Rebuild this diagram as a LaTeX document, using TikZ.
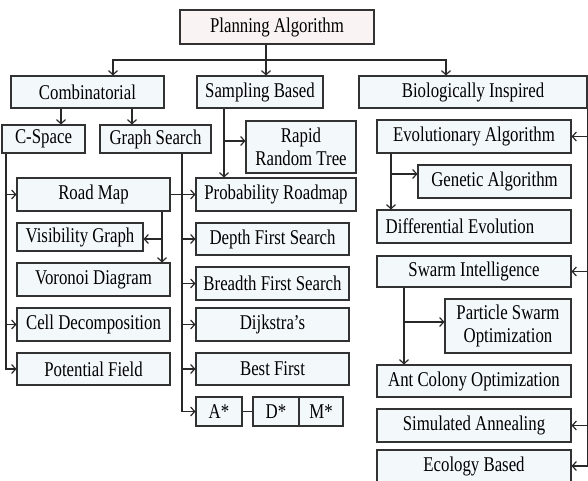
\documentclass[tikz,border=0pt]{standalone}
\usepackage{fontspec}
\setmainfont{Liberation Serif}[FakeStretch=0.8]
\usepackage{xcolor}
\usetikzlibrary{arrows.meta, positioning, calc}
\definecolor{PABoxFill}{RGB}{243, 248, 250}
\definecolor{PARootFill}{RGB}{250, 243, 243}
\definecolor{PALine}{RGB}{40, 40, 40}
\definecolor{PABorder}{RGB}{50, 50, 50}

\tikzset{
  algbox/.style={draw=PABorder, fill=PABoxFill, line width=1.1pt, inner sep=0pt,
    align=center, font=\fontsize{21}{23}\selectfont},
  link/.style={PALine, line width=1.2pt},
  arr/.style={link, -{Straight Barb[length=4pt,width=9pt]}},
}

\begin{document}
\begin{tikzpicture}[x=1pt,y=-1pt]
  \path[use as bounding box] (0,0) rectangle (588,480);

  % root and families
  \node[algbox, fill=PARootFill, minimum width=194, minimum height=34] (plan) at (277,27) {Planning Algorithm};
  \node[algbox, minimum width=153, minimum height=32] (comb) at (87.5,92) {Combinatorial};
  \node[algbox, minimum width=126, minimum height=32] (samp) at (260,92) {Sampling Based};
  \node[algbox, minimum width=228, minimum height=32] (bio) at (473,92) {Biologically Inspired};

  % combinatorial
  \node[algbox, minimum width=83, minimum height=28] (cspace) at (43.5,139) {C-Space};
  \node[algbox, minimum width=111, minimum height=28] (gsearch) at (155.5,139) {Graph Search};
  \node[algbox, minimum width=153, minimum height=33] (road) at (93.5,194.5) {Road Map};
  \node[algbox, minimum width=126, minimum height=28] (vis) at (80,237) {Visibility Graph};
  \node[algbox, minimum width=153, minimum height=33] (vor) at (93.5,279.5) {Voronoi Diagram};
  \node[algbox, minimum width=153, minimum height=33] (cell) at (93.5,324.5) {Cell Decomposition};
  \node[algbox, minimum width=153, minimum height=32] (pot) at (93.5,369) {Potential Field};

  % sampling and graph search
  \node[algbox, minimum width=110, minimum height=52] (rrt) at (301,147) {Rapid\\Random Tree};
  \node[algbox, minimum width=160, minimum height=33] (prm) at (276,194.5) {Probability Roadmap};
  \node[algbox, minimum width=153, minimum height=32] (dfs) at (272.5,239) {Depth First Search};
  \node[algbox, minimum width=153, minimum height=33] (bfs) at (272.5,283.5) {Breadth First Search};
  \node[algbox, minimum width=153, minimum height=33] (dij) at (272.5,324.5) {Dijkstra’s};
  \node[algbox, minimum width=153, minimum height=32] (best) at (272.5,369) {Best First};
  \node[algbox, minimum width=46, minimum height=29] (astar) at (219,411.5) {A*};
  \node[algbox, minimum width=46, minimum height=29] (dstar) at (276,411.5) {D*};
  \node[algbox, minimum width=44, minimum height=29] (mstar) at (321,411.5) {M*};

  % biologically inspired
  \node[algbox, minimum width=194, minimum height=33] (evo) at (474,136.5) {Evolutionary Algorithm};
  \node[algbox, minimum width=153, minimum height=33] (gen) at (494.5,181.5) {Genetic Algorithm};
  \node[algbox, minimum width=194, minimum height=33] (dif) at (474,226.5) {Differential Evolution\hspace*{28pt}};
  \node[algbox, minimum width=194, minimum height=31] (swarm) at (474,271.5) {Swarm Intelligence};
  \node[algbox, minimum width=126, minimum height=54] (pso) at (508,326) {Particle Swarm\\Optimization};
  \node[algbox, minimum width=194, minimum height=32] (ant) at (474,381) {Ant Colony Optimization};
  \node[algbox, minimum width=194, minimum height=33] (sa) at (474,425.5) {Simulated Annealing};
  \node[algbox, minimum width=194, minimum height=32] (eco) at (474,466) {Ecology Based};

  % top level links
  \coordinate (tp) at (266,60);
  \coordinate (tl) at (113,60);
  \coordinate (tr) at (446,60);
  \draw[arr] (tp |- plan.south) -- (tp |- samp.north);
  \draw[arr] (tp) -- (tl) -- (tl |- comb.north);
  \draw[arr] (tp) -- (tr) -- (tr |- bio.north);

  % combinatorial links
  \coordinate (kc) at (61,0);
  \coordinate (kg) at (132,0);
  \draw[arr] (kc |- comb.south) -- (kc |- cspace.north);
  \draw[arr] (kg |- comb.south) -- (kg |- gsearch.north);
  \coordinate (ks) at (6,0);
  \draw[arr] (ks |- cspace.south) |- (pot.west);
  \foreach \n in {road,cell}
    \draw[arr] (ks |- \n.west) -- (\n.west);
  \coordinate (kr) at (162,239);
  \draw[arr] (kr |- road.south) -- (kr |- vor.north);
  \draw[arr] (kr) -- (kr -| vis.east);
  \draw[arr] (road.east) -- (prm.west);

  % graph search links
  \coordinate (kgs) at (182,0);
  \draw[arr] (kgs |- gsearch.south) |- (astar.west);
  \foreach \n in {dfs,bfs,dij,best}
    \draw[arr] (kgs |- \n.west) -- (\n.west);
  \draw[link] (astar.east) -- (dstar.west);

  % sampling links
  \coordinate (ksa) at (224,141);
  \draw[arr] (ksa |- samp.south) -- (ksa |- prm.north);
  \draw[arr] (ksa) -- (ksa -| rrt.west);

  % biological links
  \coordinate (ke) at (391,174);
  \draw[arr] (ke |- evo.south) -- (ke |- dif.north);
  \draw[arr] (ke) -- (ke -| gen.west);
  \coordinate (kw) at (404,322);
  \draw[arr] (kw |- swarm.south) -- (kw |- ant.north);
  \draw[arr] (kw) -- (kw -| pso.west);
  \draw[link, line width=0.8pt] (bio.south east) -- (bio.south east |- eco.east);
  \foreach \n in {evo,swarm,sa,eco}
    \draw[arr] (bio.south east |- \n.east) -- (\n.east);
\end{tikzpicture}
\end{document}
